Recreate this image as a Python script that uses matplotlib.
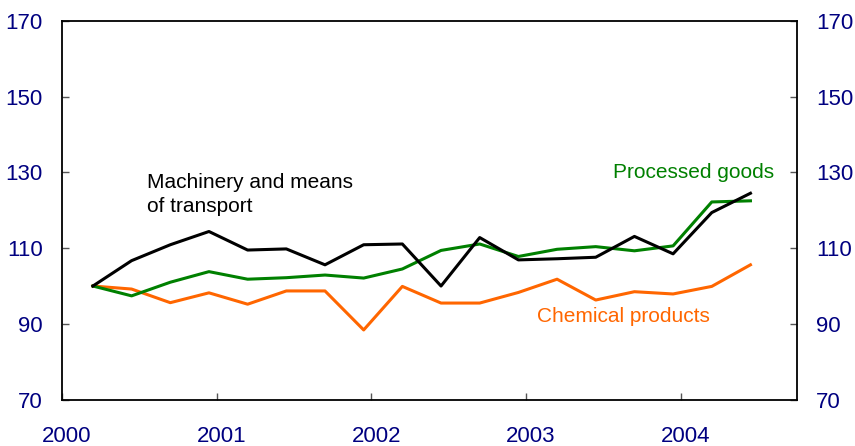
import matplotlib
matplotlib.use('Agg')
import matplotlib.pyplot as plt
import matplotlib.transforms as mtransforms

plt.rcParams['font.family'] = ['Liberation Sans', 'DejaVu Sans']

# quarterly observations, plotted as decimal years
x = [2000.20, 2000.45, 2000.70, 2000.95, 2001.20, 2001.45, 2001.70, 2001.95,
     2002.20, 2002.45, 2002.70, 2002.95, 2003.20, 2003.45, 2003.70, 2003.95,
     2004.20, 2004.45]
machinery = [100.0, 106.7, 110.9, 114.4, 109.5, 109.8, 105.6, 110.9, 111.1,
             100.0, 112.8, 106.9, 107.2, 107.6, 113.1, 108.5, 119.4, 124.5]
processed = [100.0, 97.4, 101.0, 103.8, 101.8, 102.2, 102.9, 102.1, 104.5,
             109.4, 111.1, 107.8, 109.7, 110.4, 109.3, 110.6, 122.2, 122.5]
chemical = [100.0, 99.2, 95.6, 98.2, 95.2, 98.7, 98.7, 88.4, 99.9,
            95.5, 95.5, 98.3, 101.8, 96.3, 98.5, 97.9, 99.9, 105.6]

xticks = [2000, 2001, 2002, 2003, 2004]
yticks = [70, 90, 110, 130, 150, 170]

navy = '#000080'
green = '#008000'
orange = '#ff6600'

fig = plt.figure(figsize=(8.55, 4.46), dpi=100)
ax = fig.add_axes([0.0725, 0.104, 0.8595, 0.849])

ax.plot(x, chemical, color=orange, lw=2.2)
ax.plot(x, processed, color=green, lw=2.2)
ax.plot(x, machinery, color='black', lw=2.2)

ax.set_xlim(2000, 2004.75)
ax.set_ylim(70, 170)
ax.set_xticks(xticks)
ax.set_xticklabels([str(t) for t in xticks])
ax.set_yticks(yticks)

ax.tick_params(axis='both', direction='in', length=5, width=1, color='#555555',
               labelsize=16, labelcolor=navy)
ax.tick_params(axis='x', pad=19)
ax.tick_params(axis='y', pad=14, right=True, labelright=True)
for lab in ax.get_xticklabels():
    lab.set_transform(lab.get_transform() +
                      mtransforms.ScaledTranslation(5 / 100, 0, fig.dpi_scale_trans))
for sp in ax.spines.values():
    sp.set_linewidth(1.3)

ax.text(2000.55, 124.2, 'Machinery and means\nof transport', fontsize=15,
        color='black', ha='left', va='center', linespacing=1.35)
ax.text(2004.6, 130, 'Processed goods', fontsize=15, color=green,
        ha='right', va='center')
ax.text(2004.19, 92, 'Chemical products', fontsize=15, color=orange,
        ha='right', va='center')

fig.savefig('out.png', dpi=100)
